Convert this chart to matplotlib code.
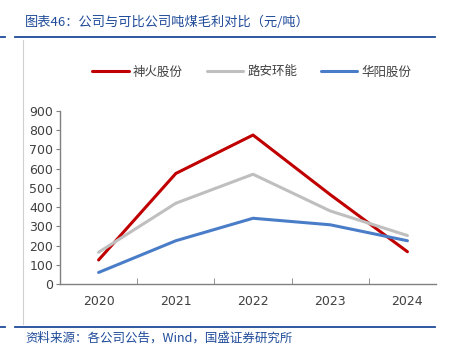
import numpy as np
import matplotlib.pyplot as plt
from matplotlib.lines import Line2D

plt.rcParams['font.family'] = ['Noto Sans CJK SC', 'DejaVu Sans']

years = ['2020', '2021', '2022', '2023', '2024']
shenhuo = [125, 575, 775, 465, 168]
lu_an = [165, 420, 571, 380, 252]
huayang = [60, 225, 342, 308, 225]

series_names = ['神火股份', '路安环能', '华阳股份']
series_colors = ['#C00000', '#BFBFBF', '#4A7DC8']

W, H = 458, 355
fig = plt.figure(figsize=(W / 100, H / 100), dpi=100)

# axes box in pixels: left 60, right 436, top 111, bottom 284
ax = fig.add_axes([60 / W, 1 - 284 / H, (436 - 60) / W, (284 - 111) / H])

x = np.arange(len(years))
for vals, c, name in zip([shenhuo, lu_an, huayang], series_colors, series_names):
    ax.plot(x, vals, color=c, linewidth=2.2, label=name, solid_capstyle='round')

ax.set_ylim(0, 900)
ax.set_yticks(np.arange(0, 901, 100))
ax.set_xlim(-0.5, 4.37)
ax.set_xticks(x)
ax.set_xticklabels(years)
ax.set_xticks(np.arange(-0.5, 4, 1), minor=True)
ax.tick_params(axis='x', which='major', length=0, pad=8, labelsize=9, labelcolor='#404040')
ax.tick_params(axis='x', which='minor', direction='in', length=4, color='#808080')
ax.tick_params(axis='y', direction='out', length=3, color='#808080', labelsize=9,
               labelcolor='#404040', pad=2)
for lbl in ax.get_xticklabels() + ax.get_yticklabels():
    lbl.set_family(['DejaVu Sans'])

for s in ['top', 'right']:
    ax.spines[s].set_visible(False)
for s in ['left', 'bottom']:
    ax.spines[s].set_color('#808080')
    ax.spines[s].set_linewidth(1)

leg = fig.legend(loc='center', bbox_to_anchor=(252 / W, 1 - 72 / H), ncol=3, frameon=False,
                 fontsize=9, handlelength=2.9, columnspacing=1.9, handletextpad=0.35)
for t in leg.get_texts():
    t.set_color('#404040')

navy = '#1F4B99'
# decorative rules
fig.add_artist(Line2D([15 / W, 435 / W], [1 - 37 / H, 1 - 37 / H], color=navy, lw=1.3))
fig.add_artist(Line2D([0, 5 / W], [1 - 37 / H, 1 - 37 / H], color=navy, lw=1.3))
fig.add_artist(Line2D([15 / W, 435 / W], [1 - 327 / H, 1 - 327 / H], color=navy, lw=1.3))
fig.add_artist(Line2D([0, 5 / W], [1 - 327 / H, 1 - 327 / H], color=navy, lw=1.3))
fig.add_artist(Line2D([23 / W, 23 / W], [1 - 40 / H, 1 - 324 / H], color='#D0D0D0', lw=0.8))

fig.text(25 / W, 1 - 22 / H, '图表46：公司与可比公司吨煤毛利对比（元/吨）', color=navy,
         fontsize=9.5, style='italic', va='center', ha='left')
fig.text(25 / W, 1 - 338 / H, '资料来源：各公司公告，Wind，国盛证券研究所', color=navy,
         fontsize=9, style='italic', va='center', ha='left')

fig.savefig('out.png', dpi=100)
